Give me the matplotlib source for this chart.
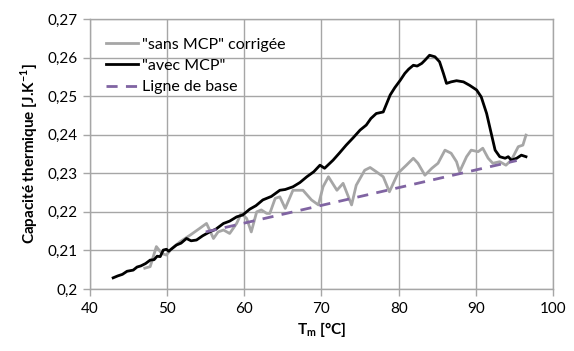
import matplotlib
matplotlib.use("Agg")
import matplotlib.pyplot as plt
from matplotlib.ticker import FuncFormatter

plt.rcParams['font.family'] = ['Lato', 'DejaVu Sans']
plt.rcParams['mathtext.fontset'] = 'custom'
plt.rcParams['mathtext.rm'] = 'Lato'
plt.rcParams['mathtext.bf'] = 'Lato:bold'

# "avec MCP"
avec_x = [43.0, 43.6, 44.2, 44.8, 45.6, 46.1, 46.6, 47.2, 47.8, 48.3, 48.7, 49.1, 49.5, 49.9, 50.2,
          50.7, 51.2, 51.8, 52.5, 53.1, 53.8, 54.6, 55.5, 56.3, 57.3, 58.1, 59.0, 59.8,
          60.7, 61.5, 62.4, 63.5, 64.6, 65.3, 66.3, 67.2, 68.1, 69.0, 69.8, 70.4, 71.5, 72.3,
          73.2, 74.1, 75.0, 75.8, 76.4, 77.1, 78.0,
          78.9, 79.5, 80.2, 80.8, 81.3, 81.9, 82.4, 83.0, 83.4, 84.0, 84.7, 85.3, 85.8, 86.2,
          86.8, 87.5, 88.4, 89.2, 90.1, 90.7, 91.4, 92.0, 92.5, 93.1, 93.8, 94.2, 94.6,
          95.3, 95.9, 96.5]
avec_y = [0.2029, 0.2034, 0.2038, 0.2046, 0.2049, 0.2057, 0.2060, 0.2066, 0.2075, 0.2076, 0.2085,
          0.2084, 0.2101, 0.2103, 0.2098, 0.2106, 0.2114, 0.2119, 0.2131, 0.2125, 0.2127,
          0.2138, 0.2148, 0.2155, 0.2170, 0.2176, 0.2187, 0.2192, 0.2207, 0.2216, 0.2231,
          0.2240, 0.2256, 0.2258, 0.2265, 0.2276, 0.2291, 0.2304, 0.2321, 0.2313,
          0.2334, 0.2352, 0.2373, 0.2392, 0.2412, 0.2425, 0.2442, 0.2455, 0.2459, 0.2503,
          0.2522, 0.2541, 0.2559, 0.2570, 0.2580, 0.2578,
          0.2585, 0.2593, 0.2606, 0.2602, 0.2589, 0.2559, 0.2533, 0.2537, 0.2540, 0.2537,
          0.2528, 0.2516, 0.2498, 0.2455, 0.2403, 0.2360, 0.2343, 0.2339, 0.2343, 0.2334,
          0.2339, 0.2347, 0.2343]

# "sans MCP" corrigée
sans_x = [47.1, 47.8, 48.2, 48.6, 49.3, 49.9, 50.6, 51.7, 53.0, 54.2, 55.1, 55.5, 56.0, 56.6,
          57.3, 58.1, 59.0, 59.6, 60.3, 60.9, 61.6, 62.2, 62.9, 63.3, 64.0, 64.6, 65.3,
          66.3, 67.6, 68.7, 69.6, 70.2, 70.9, 72.0, 72.8, 73.9, 74.5, 75.6, 76.3, 77.1,
          78.0, 78.8, 79.9, 81.0, 81.9, 82.5, 83.4, 84.3, 85.1, 86.0, 86.8, 87.5, 87.9,
          88.8, 89.4, 90.3, 90.9, 91.6, 92.2, 93.1, 93.9, 94.6, 95.5, 96.1, 96.5]
sans_y = [0.2054, 0.2058, 0.2084, 0.2110, 0.2092, 0.2088, 0.2105, 0.2123, 0.2140, 0.2157,
          0.2170, 0.2153, 0.2131, 0.2148, 0.2153, 0.2144, 0.2170, 0.2196, 0.2183, 0.2148,
          0.2200, 0.2205, 0.2196, 0.2196, 0.2235, 0.2239, 0.2209, 0.2256, 0.2256, 0.2231,
          0.2218, 0.2265, 0.2291, 0.2256, 0.2274, 0.2218, 0.2269, 0.2308, 0.2315, 0.2304,
          0.2291, 0.2252, 0.2300, 0.2321, 0.2339, 0.2326, 0.2295, 0.2313, 0.2326, 0.2360,
          0.2352, 0.2330, 0.2304, 0.2343, 0.2360, 0.2356, 0.2365, 0.2339, 0.2326, 0.2330,
          0.2321, 0.2334, 0.2369, 0.2373, 0.2399]

# Ligne de base
base_x = [55.0, 95.3]
base_y = [0.2148, 0.2333]

xticks = [40, 50, 60, 70, 80, 90, 100]
yticks = [0.20, 0.21, 0.22, 0.23, 0.24, 0.25, 0.26, 0.27]

fig = plt.figure(figsize=(5.74, 3.51), dpi=100)
ax = fig.add_axes([0.1568, 0.1766, 0.8066, 0.7693])

grid_c = '#A6A6A6'
ax.plot(sans_x, sans_y, color='#A6A6A6', lw=2.0, label='"sans MCP" corrigée', zorder=3)
ax.plot(avec_x, avec_y, color='black', lw=2.0, label='"avec MCP"', zorder=4)
ax.plot(base_x, base_y, color='#8064A2', lw=2.0, ls=(0, (4, 3)), label='Ligne de base', zorder=5)

ax.set_xlim(40, 100)
ax.set_ylim(0.2, 0.27)
ax.set_xticks(xticks)
ax.set_yticks(yticks)

def yfmt(v, p):
    s = ('%.2f' % v).rstrip('0').rstrip('.')
    return s.replace('.', ',')
ax.yaxis.set_major_formatter(FuncFormatter(yfmt))
ax.xaxis.set_major_formatter(FuncFormatter(lambda v, p: '%d' % v))

ax.grid(True, color=grid_c, lw=1.0)
ax.set_axisbelow(True)
for s in ax.spines.values():
    s.set_color(grid_c)
    s.set_linewidth(1.0)
ax.tick_params(axis='both', direction='out', length=5, width=1, color=grid_c,
               labelsize=11, labelcolor='black', pad=4)

ax.set_xlabel(r'T$_\mathregular{m}$ [°C]', fontsize=11, fontweight='bold', labelpad=3)
ax.set_ylabel(r'Capacité thermique [J.K$^{\mathregular{-1}}$]', fontsize=11, fontweight='bold', labelpad=5)

leg = ax.legend(loc='upper left', frameon=False, fontsize=11.5, handlelength=2.0,
                handletextpad=0.3, labelspacing=0.45, borderaxespad=0.0,
                bbox_to_anchor=(0.02, 0.955))

fig.savefig('out.png', dpi=100)
